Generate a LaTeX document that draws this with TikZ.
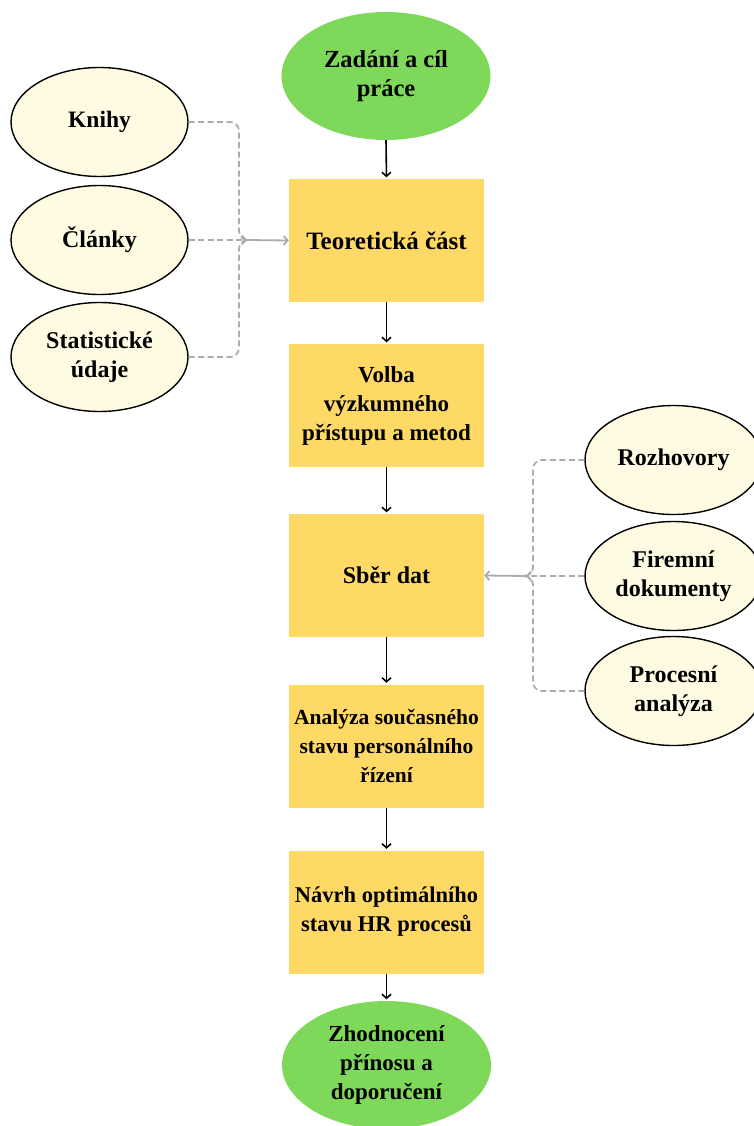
\documentclass[tikz,border=0pt]{standalone}
\usepackage{fontspec}
\setmainfont{Liberation Serif}
\usetikzlibrary{shapes.geometric,arrows.meta}
\definecolor{stepgreen}{RGB}{126,217,90}
\definecolor{stepyellow}{RGB}{255,217,102}
\definecolor{srccream}{RGB}{255,250,226}
\definecolor{linkgray}{RGB}{172,172,172}
\newcommand{\fs}[1]{\fontsize{#1}{29}\selectfont}
\tikzset{
  txt/.style={font=\fs{24}\bfseries, align=center, text=black},
  endpoint/.style={txt, ellipse, fill=stepgreen, inner sep=0pt, minimum width=209pt, minimum height=128pt},
  stepbox/.style={txt, rectangle, fill=stepyellow, inner sep=0pt, minimum width=195pt, minimum height=123pt},
  source/.style={txt, ellipse, draw=black, line width=1.4pt, fill=srccream, inner sep=0pt, minimum width=177pt, minimum height=109pt},
  flow/.style={-{Straight Barb[length=4pt,width=9pt,line width=1.6pt]}, line width=1.6pt, black, shorten >=1.5pt},
  bracket/.style={dash pattern=on 6pt off 3.5pt, linkgray, line width=1.8pt, rounded corners=9pt},
  feed/.style={-{Straight Barb[length=4pt,width=9pt]}, dash pattern=on 6pt off 3.5pt, linkgray, line width=1.8pt},
  feedmain/.style={-{Straight Barb[length=4pt,width=9pt]}, linkgray, line width=1.8pt}
}
\begin{document}
\begin{tikzpicture}[x=1pt,y=-1pt]
\useasboundingbox (0,0) rectangle (753,1126);
\fill[white] (0,0) rectangle (753,1126);

% main sequence
\node[endpoint, font=\fs{24.5}\bfseries] (start) at (386,76) {Zadání a cíl\\práce};
\node[stepbox, font=\fs{25}\bfseries] (teorie) at (386.5,240.5) {Teoretická část};
\node[stepbox, font=\fs{23}\bfseries] (volba) at (386.5,405.5) {Volba\\výzkumného\\přístupu a metod};
\node[stepbox] (sber) at (386.5,575.5) {Sběr dat};
\node[stepbox, font=\fs{21.5}\bfseries] (analyza) at (386.5,746) {Analýza současného\\stavu personálního\\řízení};
\node[stepbox, font=\fs{22.5}\bfseries] (navrh) at (386.5,912) {Návrh optimálního\\stavu HR procesů};
\node[endpoint, font=\fs{23}\bfseries] (konec) at (386.5,1065) {Zhodnocení\\přínosu a\\doporučení};

% literature sources
\node[source, font=\fs{23.5}\bfseries] (knihy) at (99.5,122) {Knihy};
\node[source] (clanky) at (99.5,240) {Články};
\node[source] (stat) at (99.5,357) {Statistické\\údaje};

% data sources
\node[source] (rozhovory) at (673.5,460) {Rozhovory};
\node[source] (firemni) at (673.5,576) {Firemní\\dokumenty};
\node[source] (procesni) at (673.5,691) {Procesní\\analýza};

% sequence arrows
\draw[flow] (start.south) -- (teorie.north);
\draw[flow] (teorie.south) -- (volba.north);
\draw[flow] (volba.south) -- (sber.north);
\draw[flow] (sber.south) -- (analyza.north);
\draw[flow] (analyza.south) -- (navrh.north);
\draw[flow] (navrh.south) -- (konec.north);

% left bracket into the theory step
\coordinate (jl) at (247,240);
\draw[bracket] (knihy.east) -- (239,122) -- (239,240) -- (jl);
\draw[bracket] (stat.east) -- (239,357) -- (239,240) -- (jl);
\draw[feed] (clanky.east) -- (jl);
\draw[feedmain] (jl) -- (teorie.west);

% right bracket into the data collection step
\coordinate (jr) at (526,576);
\draw[bracket] (rozhovory.west) -- (533,460) -- (533,576) -- (jr);
\draw[bracket] (procesni.west) -- (533,691) -- (533,576) -- (jr);
\draw[feed] (firemni.west) -- (jr);
\draw[feedmain] (jr) -- (sber.east);
\end{tikzpicture}
\end{document}
